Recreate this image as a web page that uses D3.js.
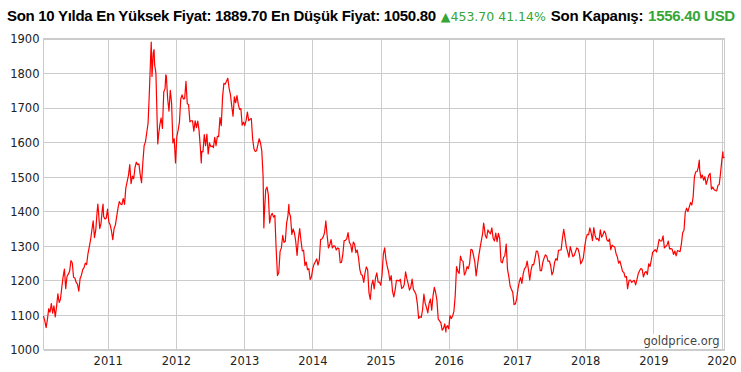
<!DOCTYPE html>
<html>
<head>
<meta charset="utf-8">
<script src="https://cdn.jsdelivr.net/npm/d3@7"></script>
<style>
  body { margin: 0; background: #fff; }
  svg { display: block; }
</style>
</head>
<body>
<div id="chart"></div>
<script>
// ── Data: weekly (Friday) gold prices, USD/oz ──────────────────────────────
const weekStarts = [
  '2010-01-22', '2011-01-07', '2012-01-06', '2013-01-04', '2014-01-03', '2015-01-02',
  '2016-01-01', '2017-01-06', '2018-01-05', '2019-01-04', '2020-01-03'
];

const prices2010 = [1097, 1083, 1063, 1087, 1118, 1108, 1133, 1105, 1126, 1094,
  1125, 1161, 1136, 1146, 1180, 1210, 1233, 1176, 1212, 1218, 1227, 1257, 1251,
  1209, 1207, 1194, 1189, 1169, 1205, 1215, 1231, 1237, 1250, 1246, 1277, 1296,
  1317, 1345, 1372, 1324, 1346, 1398, 1403, 1350, 1365, 1406, 1385, 1378, 1380, 1406];
const prices2011 = [1369, 1361, 1343, 1318, 1350, 1360, 1385, 1409, 1428, 1421, 1419, 1437,
  1420, 1468, 1486, 1504, 1535, 1480, 1502, 1494, 1526, 1542, 1535, 1537, 1506,
  1483, 1541, 1590, 1601, 1628, 1655, 1745, 1850, 1790, 1860, 1825, 1800, 1655, 1620,
  1650, 1670, 1640, 1745, 1755, 1790, 1725, 1690, 1750, 1713, 1598, 1610, 1540];
const prices2012 = [1616, 1635, 1658, 1725, 1737, 1725, 1726, 1776, 1711, 1709, 1659, 1662, 1662,
  1632, 1662, 1642, 1661, 1634, 1585, 1573, 1572, 1622, 1590, 1623, 1566, 1598,
  1587, 1589, 1584, 1614, 1590, 1617, 1616, 1671, 1648, 1731, 1770, 1768, 1776,
  1785, 1756, 1738, 1705, 1675, 1731, 1714, 1735, 1710, 1695, 1697, 1649, 1658];
const prices2013 = [1648, 1663, 1687, 1662, 1667, 1668, 1610, 1581, 1573, 1575, 1593, 1610, 1598,
  1575, 1501, 1395, 1462, 1470, 1448, 1366, 1387, 1394, 1383, 1388, 1290, 1214,
  1223, 1284, 1294, 1330, 1310, 1313, 1366, 1387, 1396, 1385, 1333, 1349, 1337,
  1312, 1272, 1320, 1350, 1315, 1285, 1287, 1243, 1253, 1231, 1234, 1203, 1210];
const prices2014 = [1234, 1247, 1254, 1262, 1244, 1259, 1318, 1320, 1326, 1338, 1372, 1330, 1294,
  1303, 1318, 1294, 1300, 1299, 1288, 1294, 1292, 1251, 1252, 1275, 1315, 1316,
  1320, 1338, 1310, 1304, 1282, 1311, 1305, 1280, 1288, 1266, 1232, 1217, 1214,
  1194, 1222, 1239, 1231, 1164, 1145, 1186, 1201, 1175, 1207, 1222, 1195, 1195];
const prices2015 = [1186, 1216, 1276, 1294, 1260, 1240, 1225, 1199, 1214, 1169, 1152, 1172, 1200,
  1200, 1198, 1203, 1177, 1179, 1188, 1225, 1205, 1190, 1172, 1180, 1204, 1174,
  1167, 1159, 1133, 1090, 1095, 1093, 1115, 1160, 1134, 1122, 1106, 1133, 1146,
  1114, 1155, 1180, 1165, 1142, 1088, 1083, 1077, 1056, 1061, 1074, 1062, 1069];
const prices2016 = [1060, 1098, 1090, 1097, 1111, 1157, 1240, 1226, 1220, 1270, 1258, 1255, 1216,
  1223, 1240, 1234, 1249, 1290, 1288, 1272, 1253, 1213, 1242, 1271, 1294, 1316,
  1337, 1360, 1330, 1322, 1346, 1339, 1335, 1352, 1322, 1314, 1337, 1312, 1336, 1322,
  1254, 1251, 1266, 1273, 1305, 1232, 1211, 1183, 1174, 1166, 1130, 1132, 1146];
const prices2017 = [1176, 1196, 1208, 1191, 1219, 1234, 1238, 1256, 1232, 1201, 1230, 1246, 1245,
  1263, 1285, 1284, 1266, 1228, 1228, 1252, 1265, 1274, 1270, 1255, 1256, 1243,
  1216, 1226, 1252, 1263, 1258, 1287, 1288, 1288, 1322, 1348, 1323, 1297, 1283,
  1267, 1298, 1283, 1269, 1272, 1283, 1294, 1291, 1276, 1248, 1255, 1265, 1296];
const prices2018 = [1320, 1333, 1332, 1352, 1337, 1315, 1353, 1330, 1319, 1321, 1314, 1346, 1325,
  1332, 1343, 1336, 1317, 1313, 1320, 1289, 1302, 1298, 1297, 1278, 1268, 1250,
  1256, 1241, 1226, 1223, 1209, 1211, 1180, 1200, 1201, 1194, 1198, 1200, 1187,
  1202, 1219, 1228, 1234, 1232, 1210, 1222, 1226, 1217, 1248, 1240, 1259, 1281];
const prices2019 = [1285, 1289, 1282, 1298, 1319, 1314, 1314, 1329, 1294, 1298, 1302, 1314, 1291,
  1292, 1290, 1275, 1285, 1271, 1286, 1285, 1283, 1305, 1338, 1345, 1397, 1409,
  1399, 1412, 1425, 1418, 1441, 1500, 1514, 1515, 1528, 1520, 1496, 1505, 1490,
  1500, 1478, 1491, 1505, 1510, 1464, 1470, 1463, 1460, 1459, 1475, 1478, 1512];
const prices2020 = [1549, 1555, 1556.4];

// daily extremes that the weekly samples miss
const extraDates  = ['2010-11-09', '2010-12-07', '2011-08-22', '2011-09-06', '2011-09-26',
  '2011-11-08', '2012-05-16', '2013-04-16', '2013-08-28', '2015-12-17', '2016-07-06',
  '2018-08-16', '2019-09-04', '2020-01-08'];
const extraValues = [1421, 1421, 1889.7, 1868, 1595, 1795, 1540, 1352, 1420, 1050.8, 1366,
  1176, 1548, 1572];

const yTicks = [1000, 1100, 1200, 1300, 1400, 1500, 1600, 1700, 1800, 1900];
const xTickYears = [2011, 2012, 2013, 2014, 2015, 2016, 2017, 2018, 2019, 2020];

const titleParts = [
  { text: 'Son 10 Yılda En Yüksek Fiyat: 1889.70 En Düşük Fiyat: 1050.80', kind: 'bold' },
  { text: '▲453.70 41.14%', kind: 'change' },
  { text: 'Son Kapanış:', kind: 'bold' },
  { text: '1556.40 USD', kind: 'close' },
];

const LINE_COLOR  = '#ff0000';
const GRID_COLOR  = '#cccccc';
const GREEN       = '#35a535';
const FONT_TICK   = '"DejaVu Sans", Verdana, sans-serif';
const FONT_TITLE  = '"Liberation Sans", Arial, sans-serif';

// ── Build series ───────────────────────────────────────────
const parse = d3.timeParse('%Y-%m-%d');
const yearly = [prices2010, prices2011, prices2012, prices2013, prices2014, prices2015,
  prices2016, prices2017, prices2018, prices2019, prices2020];

const series = [];
yearly.forEach((vals, k) => {
  const start = parse(weekStarts[k]);
  vals.forEach((v, i) => series.push({ date: d3.timeDay.offset(start, 7 * i), value: v }));
});
extraDates.forEach((d, i) => series.push({ date: parse(d), value: extraValues[i] }));
series.sort((a, b) => a.date - b.date);

// ── Layout ─────────────────────────────────────────────────
const width  = 741;
const height = 372;
const margin = { top: 38.5, right: 16.5, bottom: 22.5, left: 43.5 };
const innerW = width  - margin.left - margin.right;
const innerH = height - margin.top  - margin.bottom;

const svg = d3.select('#chart')
  .append('svg')
  .attr('width', width)
  .attr('height', height);

const g = svg.append('g')
  .attr('transform', `translate(${margin.left},${margin.top})`);

// ── Scales ─────────────────────────────────────────────────
const xScale = d3.scaleTime()
  .domain(d3.extent(series, d => d.date))
  .range([0, innerW]);

const yScale = d3.scaleLinear()
  .domain([1000, 1900])
  .range([innerH, 0]);

const xTicks = xTickYears.map(y => new Date(y, 0, 1));

// ── Grid ───────────────────────────────────────────────────
g.append('g')
  .attr('shape-rendering', 'crispEdges')
  .call(d3.axisLeft(yScale).tickValues(yTicks).tickSize(-innerW).tickFormat(''))
  .call(ax => ax.select('.domain').remove())
  .call(ax => ax.selectAll('line').attr('stroke', GRID_COLOR));

g.append('g')
  .attr('shape-rendering', 'crispEdges')
  .attr('transform', `translate(0,${innerH})`)
  .call(d3.axisBottom(xScale).tickValues(xTicks).tickSize(-innerH).tickFormat(''))
  .call(ax => ax.select('.domain').remove())
  .call(ax => ax.selectAll('line').attr('stroke', GRID_COLOR));

// plot frame
g.append('rect')
  .attr('width', innerW)
  .attr('height', innerH)
  .attr('fill', 'none')
  .attr('stroke', GRID_COLOR)
  .attr('shape-rendering', 'crispEdges');

// ── Axes labels ────────────────────────────────────────────
g.append('g')
  .call(d3.axisLeft(yScale).tickValues(yTicks).tickSize(0).tickPadding(4).tickFormat(d3.format('d')))
  .call(ax => ax.select('.domain').remove())
  .call(ax => ax.selectAll('text')
    .attr('dy', '0.38em')
    .attr('fill', '#222')
    .attr('font-size', 11.5)
    .attr('font-family', FONT_TICK));

g.append('g')
  .attr('transform', `translate(0,${innerH})`)
  .call(d3.axisBottom(xScale).tickValues(xTicks).tickSize(0).tickPadding(7).tickFormat(d3.timeFormat('%Y')))
  .call(ax => ax.select('.domain').remove())
  .call(ax => ax.selectAll('text')
    .attr('fill', '#222')
    .attr('font-size', 11.5)
    .attr('font-family', FONT_TICK));

// ── Watermark ──────────────────────────────────────────────
const wm = g.append('g');
const wmText = wm.append('text')
  .attr('x', innerW - 5)
  .attr('y', innerH - 4.5)
  .attr('text-anchor', 'end')
  .attr('fill', '#444')
  .attr('font-size', 11.5)
  .attr('font-family', FONT_TICK)
  .text('goldprice.org');
const bb = wmText.node().getBBox();
wm.insert('rect', 'text')
  .attr('x', bb.x - 2)
  .attr('y', bb.y)
  .attr('width', bb.width + 4)
  .attr('height', innerH - bb.y - 1)
  .attr('fill', '#fff');

// ── Line ───────────────────────────────────────────────────
const lineGen = d3.line()
  .x(d => xScale(d.date))
  .y(d => yScale(d.value));

g.append('path')
  .datum(series)
  .attr('fill', 'none')
  .attr('stroke', LINE_COLOR)
  .attr('stroke-width', 1.2)
  .attr('stroke-linejoin', 'round')
  .attr('d', lineGen);

// ── Title ──────────────────────────────────────────────────
let cursor = 7;
titleParts.forEach(part => {
  const t = svg.append('text')
    .attr('x', cursor)
    .attr('y', 20.5)
    .text(part.text);
  if (part.kind === 'change') {
    t.attr('font-family', FONT_TICK).attr('font-size', 12.5).attr('fill', GREEN);
  } else {
    t.attr('font-family', FONT_TITLE).attr('font-size', 15).attr('font-weight', 'bold')
      .attr('letter-spacing', -0.3)
      .attr('fill', part.kind === 'close' ? GREEN : '#000');
  }
  cursor += t.node().getComputedTextLength() + 5;
});
</script>
</body>
</html>
